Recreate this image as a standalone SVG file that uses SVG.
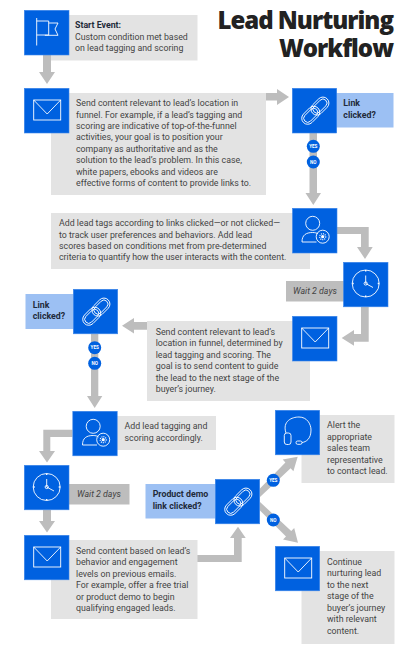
<svg xmlns="http://www.w3.org/2000/svg" width="414" height="657" viewBox="0 0 414 657">
<style>
.sq{fill:#0061e0;stroke:#3c86ea;stroke-width:.6}
.g{fill:#e3e3e3}
.b{fill:#9cc0f3}
.w{fill:#bdbdbd}
.t{font-family:Roboto,sans-serif;font-size:8.8px;fill:#444}
.h{font-family:Roboto,sans-serif;font-size:8.8px;fill:#1f2a3a;font-weight:700}
.i{font-family:Roboto,sans-serif;font-size:8.8px;fill:#444;font-style:italic}
.title{font-family:"Open Sans",sans-serif;font-size:24px;font-weight:800;fill:#222;text-anchor:end;letter-spacing:-1px}
.ic{fill:none;stroke:#fff;stroke-width:.9}
.c{fill:#bdbdbd}
.bd{fill:#0061e0}
.bt{font-family:Roboto,sans-serif;font-size:4.6px;font-weight:700;fill:#fff;text-anchor:middle}
</style>
<defs>
<g id="mail"><rect x="9.700" y="12" width="27" height="20" class="ic"/><path d="M9.700 12L23.200 26L36.700 12" class="ic"/></g>
<g id="link" class="ic"><g transform="rotate(-45 23.500 22.500)"><rect x="6.500" y="16.500" width="20.500" height="12" rx="6"/><rect x="8.500" y="18.500" width="16.500" height="8" rx="4"/><rect x="19.500" y="16.500" width="20.500" height="12" rx="6"/><rect x="21.500" y="18.500" width="16.500" height="8" rx="4"/></g></g>
<g id="user" class="ic"><circle cx="20.700" cy="15.300" r="7"/><path d="M10 34C10 27 14 24.500 20.700 24.500C23 24.500 25 25 26 26"/><path d="M10 34H24.500"/><circle cx="30.700" cy="28.700" r="6.500"/><circle cx="30.700" cy="28.700" r="1.600" fill="#fff" stroke="none"/><circle cx="30.700" cy="28.700" r="3" stroke-dasharray="1 1" stroke-width="1.200"/></g>
<g id="clock" class="ic"><circle cx="22.700" cy="22" r="13.500"/><path d="M22.700 14V22L30 26"/><circle cx="22.700" cy="22" r="1.600"/><path d="M22.700 8.500v1.500M22.700 34v1.500M9.200 22h1.500M34.700 22h1.500" stroke-width="1.400"/></g>
</defs>
<g id="connectors">
<polygon class="c" points="43,55 51,55 51,72 55,72 47,84 39,72 43,72"/>
<polygon class="c" points="266,93 277,93 277,89 289,97 277,105 277,100.500 266,100.500"/>
<polygon class="c" points="309.500,133 317,133 317,193 321,193 313.300,205 305.500,193 309.500,193"/>
<polygon class="c" points="337,227 368.700,227 368.700,247 372.700,247 365,259 357,247 361,247 361,234 337,234"/>
<polygon class="c" points="361,307 368.700,307 368.700,341.700 354,341.700 354,345.700 341.700,338 354,330 354,334 361,334"/>
<polygon class="c" points="147,322 147,329.700 134,329.700 134,333.500 122,325.800 134,318 134,322"/>
<polygon class="c" points="91,334 98.300,334 98.300,396 102.300,396 94.700,408 87,396 91,396"/>
<polygon class="c" points="72.500,429.700 72.500,437 50.300,437 50.300,451 55,451 47,462.500 39,451 43.300,451 43.300,429.700"/>
<polygon class="c" points="43,510 51,510 51,521 55,521 47,532.500 39,521 43,521"/>
<polygon class="c" points="197,555 234,555 234,538 230,538 238,526.700 245.700,538 241.700,538 241.700,562 197,562"/>
<polygon class="c" points="260,488.500 260,497 290.600,468.200 293.400,471.300 297.700,456.700 282.700,459.500 285.400,462.600"/>
<polygon class="c" points="260,502 260,510.500 286,536.400 283,539.500 298,542.700 294.200,527.900 291.200,531"/>
</g>
<g id="title"><text class="title" x="393" y="29">Lead Nurturing</text><text class="title" x="393" y="56.700">Workflow</text></g>
<g id="start"><rect class="g" x="51" y="15" width="146.500" height="45.500"/><rect class="sq" x="24.300" y="10.300" width="44.700" height="44.700"/>
<g transform="translate(24 10)" class="ic"><path d="M12.700 8V35.500M12.700 11H24.700V25H12.700M24.700 13H34L31 19L34 25.300H21V25"/></g>
<text class="h" x="75" y="28">Start Event:</text><text class="t" x="75" y="39.500">Custom condition met based</text><text class="t" x="75" y="51">on lead tagging and scoring</text></g>
<g id="send1"><rect class="g" x="51" y="93" width="215" height="102"/><rect class="sq" x="24.300" y="88.300" width="44.700" height="44.700"/><use href="#mail" transform="translate(24 88)"/>
<text class="t" x="76" y="106">Send content relevant to lead’s location in</text><text class="t" x="76" y="117.500">funnel. For example, if a lead’s tagging and</text><text class="t" x="76" y="129">scoring are indicative of top-of-the-funnel</text><text class="t" x="76" y="140.300">activities, your goal is to position your</text><text class="t" x="76" y="151.700">company as authoritative and as the</text><text class="t" x="76" y="163.100">solution to the lead’s problem. In this case,</text><text class="t" x="76" y="174.600">white papers, ebooks and videos are</text><text class="t" x="76" y="186">effective forms of content to provide links to.</text></g>
<g id="link1"><rect class="b" x="336" y="93" width="57.500" height="34.500"/><rect class="sq" x="292.300" y="88.300" width="44.400" height="44.700"/><use href="#link" transform="translate(292 88)"/>
<text class="h" x="343.300" y="106">Link</text><text class="h" x="343.300" y="117.500">clicked?</text></g>
<g id="badges1"><circle class="bd" cx="313.300" cy="146.300" r="6.500"/><text class="bt" x="313.300" y="148">YES</text><circle class="bd" cx="313.300" cy="162" r="6.500"/><text class="bt" x="313.300" y="163.700">NO</text></g>
<g id="tags1"><rect class="g" x="51" y="213" width="259" height="56"/><rect class="sq" x="292.500" y="208.300" width="44.500" height="44.700"/><use href="#user" transform="translate(292 208)"/>
<text class="t" x="59" y="226">Add lead tags according to links clicked—or not clicked—</text><text class="t" x="59" y="237.500">to track user preferences and behaviors. Add lead</text><text class="t" x="59" y="249">scores based on conditions met from pre-determined</text><text class="t" x="59" y="260.400">criteria to quantify how the user interacts with the content.</text></g>
<g id="wait1"><rect class="w" x="286" y="281" width="58" height="20.500"/><rect class="sq" x="343.500" y="262.300" width="44.500" height="44.500"/><use href="#clock" transform="translate(343 261.500)"/><text class="i" x="293" y="294">Wait 2 days</text></g>
<g id="send2"><rect class="g" x="147" y="321" width="163" height="80"/><rect class="sq" x="292.500" y="316.300" width="44.500" height="44.700"/><use href="#mail" transform="translate(292 316)"/>
<text class="t" x="155.700" y="334.500">Send content relevant to lead’s</text><text class="t" x="155.700" y="346">location in funnel, determined by</text><text class="t" x="155.700" y="357.500">lead tagging and scoring. The</text><text class="t" x="155.700" y="369">goal is to send content to guide</text><text class="t" x="155.700" y="380.500">the lead to the next stage of the</text><text class="t" x="155.700" y="392">buyer’s journey.</text></g>
<g id="link2"><rect class="b" x="25.500" y="294" width="48" height="35"/><rect class="sq" x="73.300" y="289.300" width="44.400" height="44.500"/><use href="#link" transform="translate(73 289)"/>
<text class="h" x="32.700" y="307.500">Link</text><text class="h" x="32.700" y="319">clicked?</text></g>
<g id="badges2"><circle class="bd" cx="94.700" cy="347.700" r="6.500"/><text class="bt" x="94.700" y="349.400">YES</text><circle class="bd" cx="94.700" cy="363.300" r="6.500"/><text class="bt" x="94.700" y="365">NO</text></g>
<g id="tags2"><rect class="g" x="117" y="416" width="99" height="34"/><rect class="sq" x="72.800" y="411.300" width="44.400" height="44.500"/><use href="#user" transform="translate(72.500 411)"/>
<text class="t" x="124.500" y="429">Add lead tagging and</text><text class="t" x="124.500" y="440.500">scoring accordingly.</text></g>
<g id="wait2"><rect class="w" x="69" y="484" width="60.500" height="20.500"/><rect class="sq" x="24.300" y="465.300" width="44.700" height="44.500"/><use href="#clock" transform="translate(24 465)"/><text class="i" x="77" y="497">Wait 2 days</text></g>
<g id="send3"><rect class="g" x="51" y="540" width="146.500" height="79"/><rect class="sq" x="24.300" y="535.300" width="44.700" height="44.500"/><use href="#mail" transform="translate(24 535)"/>
<text class="t" x="76" y="553.500">Send content based on lead’s</text><text class="t" x="76" y="565">behavior and engagement</text><text class="t" x="76" y="576.500">levels on previous emails.</text><text class="t" x="76" y="588">For example, offer a free trial</text><text class="t" x="76" y="599.500">or product demo to begin</text><text class="t" x="76" y="611">qualifying engaged leads.</text></g>
<g id="demo"><rect class="b" x="145.500" y="484" width="70" height="34.500"/><rect class="sq" x="215.300" y="479.300" width="44.400" height="44.500"/><use href="#link" transform="translate(215 479)"/>
<text class="h" x="152.700" y="497">Product demo</text><text class="h" x="152.700" y="508.500">link clicked?</text></g>
<g id="badges3"><circle class="bd" cx="273.300" cy="480.300" r="6.500"/><text class="bt" x="273.300" y="482">YES</text><circle class="bd" cx="273.300" cy="520" r="6.500"/><text class="bt" x="273.300" y="521.700">NO</text></g>
<g id="alert"><rect class="g" x="301.500" y="415" width="93" height="68"/><rect class="sq" x="275.300" y="410.300" width="44.400" height="44.500"/>
<g transform="translate(275 410)" class="ic"><rect x="9.300" y="23" width="6.700" height="11.500" rx="2.500"/><path d="M11 23C7 11 17 7 24 7C32 7 36 14 36 20C36 29 31 32 27 32.500"/><rect x="21" y="31" width="6" height="3.300" rx="1.600"/></g>
<text class="t" x="327" y="428">Alert the</text><text class="t" x="327" y="439.500">appropriate</text><text class="t" x="327" y="451">sales team</text><text class="t" x="327" y="462.500">representative</text><text class="t" x="327" y="474">to contact lead.</text></g>
<g id="continue"><rect class="g" x="301.500" y="551" width="93" height="93"/><rect class="sq" x="275.300" y="546.300" width="44.400" height="44.500"/><use href="#mail" transform="translate(275 546)"/>
<text class="t" x="327" y="564.500">Continue</text><text class="t" x="327" y="576">nurturing lead</text><text class="t" x="327" y="587.500">to the next</text><text class="t" x="327" y="599">stage of the</text><text class="t" x="327" y="610.500">buyer’s journey</text><text class="t" x="327" y="622">with relevant</text><text class="t" x="327" y="633.500">content.</text></g>
</svg>
